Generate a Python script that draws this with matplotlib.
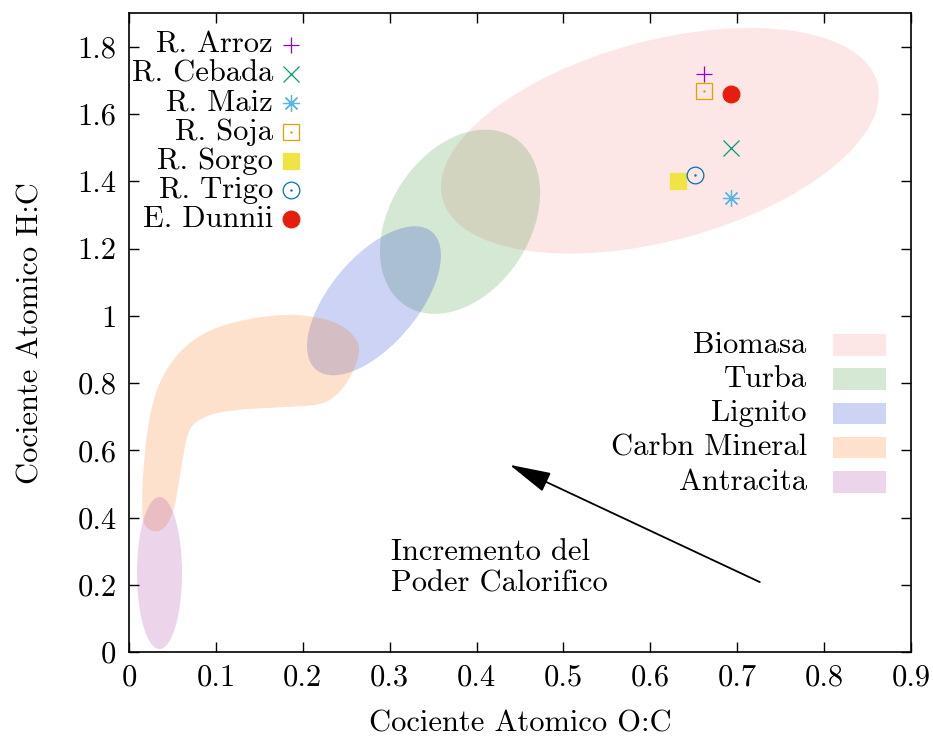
import numpy as np
import matplotlib.pyplot as plt
from matplotlib.patches import Ellipse, PathPatch, Rectangle
from matplotlib.path import Path
from matplotlib.transforms import ScaledTranslation

plt.rcParams['font.family'] = 'serif'
plt.rcParams['font.serif'] = ['cmr10']
plt.rcParams['axes.formatter.use_mathtext'] = True
plt.rcParams['mathtext.fontset'] = 'cm'

# muestras (O:C, H:C)
nombres = ['R. Arroz', 'R. Cebada', 'R. Maiz', 'R. Soja', 'R. Sorgo', 'R. Trigo', 'E. Dunnii']
oc = [0.662, 0.693, 0.693, 0.662, 0.632, 0.651, 0.693]
hc = [1.72, 1.50, 1.35, 1.67, 1.40, 1.42, 1.66]
marcas = ['+', 'x', (8, 2, 0), 's', 's', 'o', 'o']
rellenos = [False, False, False, False, True, False, True]
colores = ['#9400d3', '#009e73', '#56b4e9', '#e69f00', '#f0e442', '#0072b2', '#e51e10']
con_punto = [False, False, False, True, False, True, False]

# regiones elipticas: centro (O:C, H:C), semiejes en pixeles, angulo
regiones = ['Biomasa', 'Turba', 'Lignito', 'Carbn Mineral', 'Antracita']
reg_colores = ['#f58282', '#2d8c28', '#0023cc', '#f56900', '#a02d9b']
elipses = {
    'Biomasa': (0.611, 1.521, 225, 100, 15),
    'Turba': (0.381, 1.280, 100, 70, 57),
    'Lignito': (0.282, 1.045, 90, 44, 50),
    'Antracita': (0.0351, 0.235, 76, 22.5, 90),
}
carbon_x = [0.0146, 0.0161, 0.0242, 0.0391, 0.0667, 0.1047, 0.1623, 0.2048, 0.2428, 0.2635,
            0.2658, 0.2578, 0.2428, 0.2233, 0.1818, 0.1128, 0.0817, 0.0679, 0.0621, 0.0564,
            0.0529, 0.0437, 0.0299, 0.0184]
carbon_y = [0.403, 0.551, 0.720, 0.830, 0.920, 0.973, 1.003, 1.003, 0.979, 0.929,
            0.890, 0.830, 0.771, 0.735, 0.729, 0.720, 0.696, 0.661, 0.580, 0.491,
            0.432, 0.372, 0.354, 0.372]

xticks = [0, 0.1, 0.2, 0.3, 0.4, 0.5, 0.6, 0.7, 0.8, 0.9]
xtick_labels = ['0', '0.1', '0.2', '0.3', '0.4', '0.5', '0.6', '0.7', '0.8', '0.9']
yticks = [0, 0.2, 0.4, 0.6, 0.8, 1.0, 1.2, 1.4, 1.6, 1.8]
ytick_labels = ['0', '0.2', '0.4', '0.6', '0.8', '1', '1.2', '1.4', '1.6', '1.8']

FS = 22
ALPHA = 0.2

fig = plt.figure(figsize=(9.33, 7.36), dpi=100)
ax = fig.add_axes([129 / 933, 84 / 736, 782 / 933, 638.6 / 736])
ax.set_xlim(0, 0.9)
ax.set_ylim(0, 1.9)

# regiones
for nom, col in zip(regiones, reg_colores):
    if nom in elipses:
        cx, cy, a, b, ang = elipses[nom]
        tr = fig.dpi_scale_trans + ScaledTranslation(cx, cy, ax.transData)
        e = Ellipse((0, 0), 2 * a / 100, 2 * b / 100, angle=ang, transform=tr,
                    facecolor=col, edgecolor='none', alpha=ALPHA, zorder=1)
        ax.add_patch(e)
    else:
        pts = np.column_stack([carbon_x, carbon_y])
        n = len(pts)
        mids = (pts + np.roll(pts, -1, axis=0)) / 2
        verts = [mids[-1]]
        codes = [Path.MOVETO]
        for i in range(n):
            verts += [pts[i], mids[i]]
            codes += [Path.CURVE3, Path.CURVE3]
        verts.append(mids[-1])
        codes.append(Path.CLOSEPOLY)
        ax.add_patch(PathPatch(Path(verts, codes), facecolor=col, edgecolor='none',
                               alpha=ALPHA, zorder=1))

# puntos
for i in range(len(nombres)):
    fc = colores[i] if rellenos[i] else 'none'
    ax.plot(oc[i], hc[i], linestyle='none', marker=marcas[i], markersize=12,
            markerfacecolor=fc, markeredgecolor=colores[i], markeredgewidth=0.9,
            zorder=3, clip_on=False)
    if con_punto[i]:
        ax.plot(oc[i], hc[i], linestyle='none', marker='.', markersize=1.5,
                color=colores[i], zorder=4)

# leyenda de muestras
for i in range(len(nombres)):
    yy = 0.9505 - 0.0454 * i
    ax.text(0.184, yy, nombres[i], transform=ax.transAxes, ha='right', va='center',
            fontsize=FS)
    fc = colores[i] if rellenos[i] else 'none'
    ax.plot(0.2068, yy, transform=ax.transAxes, linestyle='none', marker=marcas[i],
            markersize=12, markerfacecolor=fc, markeredgecolor=colores[i],
            markeredgewidth=0.9, zorder=3)
    if con_punto[i]:
        ax.plot(0.2068, yy, transform=ax.transAxes, linestyle='none', marker='.',
                markersize=1.5, color=colores[i], zorder=4)

# leyenda de regiones
for i, (nom, col) in enumerate(zip(regiones, reg_colores)):
    yy = 0.4807 - 0.05355 * i
    ax.text(0.8666, yy, nom, transform=ax.transAxes, ha='right', va='center', fontsize=FS)
    ax.add_patch(Rectangle((0.9006, yy - 0.017), 0.0674, 0.034, transform=ax.transAxes,
                           facecolor=col, edgecolor='none', alpha=ALPHA))

# flecha y texto
ax.annotate('', xy=(0.438, 0.557), xytext=(0.726, 0.208),
            arrowprops=dict(arrowstyle='-|>,head_length=1.3,head_width=0.32',
                            color='black', lw=1.3, mutation_scale=20,
                            shrinkA=0, shrinkB=0))
ax.text(0.3015, 0.274, 'Incremento del', fontsize=FS, va='baseline')
ax.text(0.3015, 0.179, 'Poder Calorifico', fontsize=FS, va='baseline')

ax.set_xticks(xticks)
ax.set_xticklabels(xtick_labels)
ax.set_yticks(yticks)
ax.set_yticklabels(ytick_labels)
ax.tick_params(direction='in', top=True, right=True, length=7, width=1,
               labelsize=FS, pad=9)
for s in ax.spines.values():
    s.set_linewidth(1.2)

ax.set_xlabel('Cociente Atomico O:C', fontsize=FS, labelpad=13)
ax.set_ylabel('Cociente Atomico H:C', fontsize=FS, labelpad=24)

fig.savefig('out.png', dpi=100)
